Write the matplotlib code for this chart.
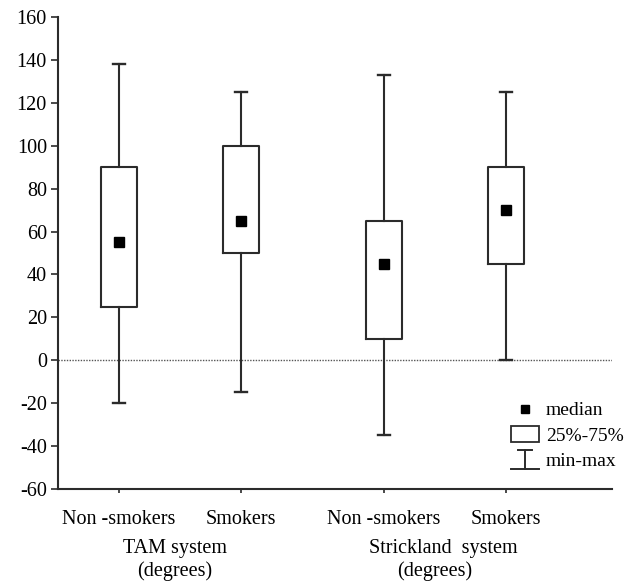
import matplotlib
matplotlib.use("Agg")
import matplotlib.pyplot as plt
from matplotlib.lines import Line2D
from matplotlib.patches import Patch, Rectangle
from matplotlib.legend_handler import HandlerBase
import matplotlib.transforms as mtransforms

plt.rcParams['font.family'] = ['Liberation Serif', 'DejaVu Serif']

categories = ["Non -smokers", "Smokers", "Non -smokers", "Smokers"]
group_titles = ["TAM system", "Strickland  system"]
unit_label = "(degrees)"
mins = [-20, -15, -35, 0]
q1s = [25, 50, 10, 45]
medians = [55, 65, 45, 70]
q3s = [90, 100, 65, 90]
maxs = [138, 125, 133, 125]
yticks = [-60, -40, -20, 0, 20, 40, 60, 80, 100, 120, 140, 160]

positions = [1, 2, 3.17, 4.17]
title_centers = [1.46, 3.66]
unit_centers = [1.46, 3.59]

fig = plt.figure(figsize=(6.27, 5.83), dpi=100)
ax = fig.add_axes([58/627, 1-489/583, (612-58)/627, (489-17)/583])

col = '#2b2b2b'
stats = []
for i in range(4):
    stats.append(dict(med=medians[i], q1=q1s[i], q3=q3s[i],
                      whislo=mins[i], whishi=maxs[i], fliers=[]))
ax.bxp(stats, positions=positions, widths=0.295, showfliers=False,
       boxprops=dict(color=col, linewidth=1.5),
       whiskerprops=dict(color=col, linewidth=1.5),
       capprops=dict(color=col, linewidth=1.7),
       medianprops=dict(linewidth=0),
       capwidths=0.1, manage_ticks=False)
ax.plot(positions, medians, linestyle='none', marker='s', color='black',
        markersize=7, zorder=5)

ax.axhline(0, color='#555555', linewidth=1.0, linestyle=(0, (1, 1)), zorder=0)

ax.set_xlim(0.5, 5.04)
ax.set_ylim(-60, 160)
ax.set_yticks(yticks)
ax.set_yticklabels([str(v) for v in yticks], fontsize=14.5)
ax.set_xticks(positions)
ax.set_xticklabels(categories, fontsize=14.5)
offset = mtransforms.ScaledTranslation(-6/100, 0, fig.dpi_scale_trans)
for lab in ax.get_xticklabels():
    lab.set_transform(lab.get_transform() + offset)
ax.tick_params(axis='x', length=3, width=1.2, color=col, pad=12)
ax.tick_params(axis='y', length=5, width=1.2, color=col, pad=3)
for s in ['top', 'right']:
    ax.spines[s].set_visible(False)
for s in ['left', 'bottom']:
    ax.spines[s].set_color(col)
    ax.spines[s].set_linewidth(1.5)

xt = ax.get_xaxis_transform()
for tc, uc, gt in zip(title_centers, unit_centers, group_titles):
    ax.text(tc, -0.125, gt, transform=xt, ha='center', va='center', fontsize=14.5)
    ax.text(uc, -0.173, unit_label, transform=xt, ha='center', va='center',
            fontsize=14.5)


class MinMaxHandler(HandlerBase):
    def create_artists(self, legend, orig_handle, xdescent, ydescent,
                       width, height, fontsize, trans):
        cx = width / 2 - xdescent
        top = height * 1.15
        bot = -height * 0.2
        l1 = Line2D([cx, cx], [bot, top], color=col, lw=1.4, transform=trans)
        l2 = Line2D([cx - 5, cx + 5], [top, top], color=col, lw=1.4, transform=trans)
        l3 = Line2D([cx - 10, cx + 10], [bot, bot], color=col, lw=1.4, transform=trans)
        return [l1, l2, l3]


class BoxHandler(HandlerBase):
    def create_artists(self, legend, orig_handle, xdescent, ydescent,
                       width, height, fontsize, trans):
        cx = width / 2 - xdescent
        r = Rectangle((cx - 10, -height * 0.1), 20, height * 1.2, facecolor='white',
                      edgecolor=col, lw=1.3, transform=trans)
        return [r]


h_med = Line2D([], [], linestyle='none', marker='s', color='black', markersize=6)
h_box = Patch(facecolor='white', edgecolor=col)
h_mm = object()
leg = ax.legend([h_med, h_box, h_mm], ["median", "25%-75%", "min-max"],
                handler_map={Patch: BoxHandler(), object: MinMaxHandler()},
                frameon=False, fontsize=14, handlelength=1.4, handletextpad=0.35,
                labelspacing=0.4, borderpad=0,
                loc='upper left', bbox_to_anchor=(502/627, 1-392/583),
                bbox_transform=fig.transFigure)

fig.savefig("out.png", dpi=100)
